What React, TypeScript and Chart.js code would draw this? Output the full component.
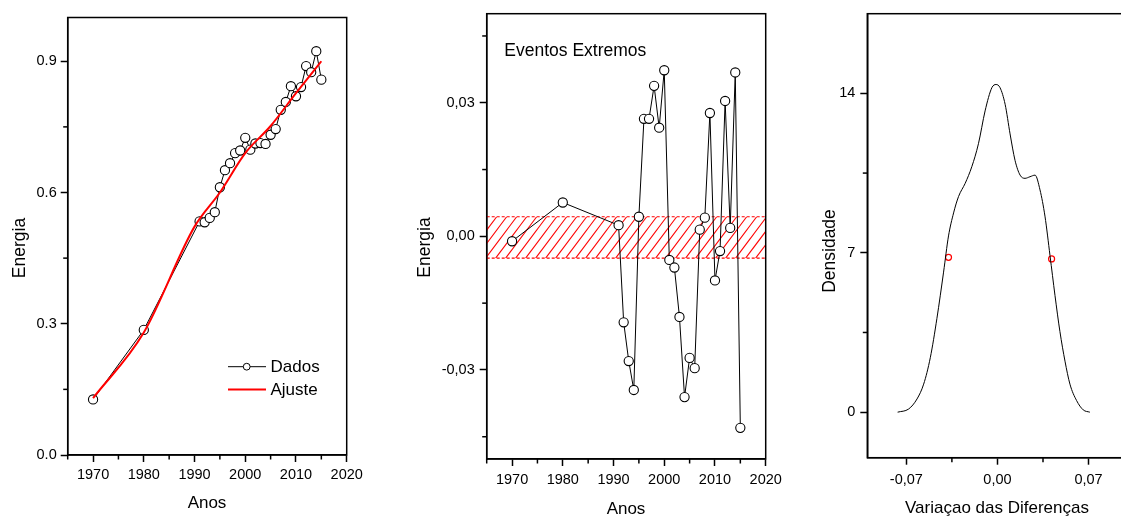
import React, { useEffect, useRef } from 'react';
import { Chart, registerables } from 'chart.js';
Chart.register(...registerables);

const FONT = '"Liberation Sans", Arial, Helvetica, sans-serif';

// ---- Panel 1: Energia vs Anos ----
const anos = [1970, 1980, 1991, 1992, 1993, 1994, 1995, 1996, 1997, 1998, 1999, 2000, 2001, 2002, 2003, 2004, 2005, 2006, 2007, 2008, 2009, 2010, 2011, 2012, 2013, 2014, 2015];
const energia = [0.127, 0.286, 0.534, 0.532, 0.542, 0.555, 0.612, 0.651, 0.667, 0.690, 0.696, 0.725, 0.698, 0.712, 0.713, 0.711, 0.732, 0.745, 0.789, 0.807, 0.843, 0.820, 0.841, 0.889, 0.875, 0.923, 0.858];
const ajusteAnos = [1970, 1980, 1990, 1995, 2000, 2005, 2010, 2015];
const ajuste = [0.13, 0.28, 0.522, 0.60, 0.69, 0.752, 0.827, 0.90];

// ---- Panel 2: Eventos Extremos ----
const diferencas = [-0.0011, 0.0076, 0.0025, -0.0193, -0.028, -0.0345, 0.0044, 0.0264, 0.0264, 0.0338, 0.0244, 0.0373, -0.0053, -0.0070, -0.0181, -0.0361, -0.0273, -0.0296, 0.0015, 0.0042, 0.0277, -0.0099, -0.0033, 0.0304, 0.0019, 0.0368, -0.0430];
const faixa = [-0.0049, 0.0044];

// ---- Panel 3: Densidade ----
const densX = [-0.0767, -0.0682, -0.0618, -0.0567, -0.0516, -0.0465, -0.0414, -0.0376, -0.0337, -0.0299, -0.0248, -0.0197, -0.0146, -0.0095, -0.0043, -0.001, 0.002, 0.0059, 0.0097, 0.0135, 0.0174, 0.0212, 0.025, 0.0289, 0.0327, 0.0365, 0.0404, 0.0442, 0.048, 0.0519, 0.0557, 0.0608, 0.0659, 0.071];
const densY = [0, 0.14, 0.58, 1.23, 2.39, 4.12, 6.15, 7.74, 8.75, 9.47, 10.05, 10.78, 11.79, 13.23, 14.25, 14.39, 14.25, 13.52, 12.22, 11.06, 10.41, 10.27, 10.34, 10.41, 9.76, 8.61, 6.87, 5.13, 3.54, 2.24, 1.23, 0.51, 0.10, 0];
const marcaX = [-0.0376, 0.0416];
const marcaY = [6.8, 6.73];

// ---- Ticks ----
const anoTicks = [1965, 1970, 1975, 1980, 1985, 1990, 1995, 2000, 2005, 2010, 2015, 2020];
const anoMajor = [1970, 1980, 1990, 2000, 2010, 2020];
const energiaTicks = [0, 0.15, 0.3, 0.45, 0.6, 0.75, 0.9];
const energiaMajor = [0, 0.3, 0.6, 0.9];
const difTicks = [-0.045, -0.03, -0.015, 0, 0.015, 0.03, 0.045];
const difMajor = [-0.03, 0, 0.03];
const varTicks = [-0.07, -0.035, 0, 0.035, 0.07];
const varMajor = [-0.07, 0, 0.07];
const densTicks = [0, 3.5, 7, 10.5, 14];
const densMajor = [0, 7, 14];

const H = 517;
const near = (a: number, b: number) => Math.abs(a - b) < 1e-9;
const isIn = (arr: number[], v: number) => arr.some((m) => near(m, v));
const comma = (v: number) => v.toFixed(2).replace('.', ',');

function axis(opts: {
  min: number; max: number; ticks: number[]; major: number[]; fmt: (v: number) => string;
  size: number; horizontal: boolean; pad: number;
}) {
  return {
    type: 'linear',
    min: opts.min,
    max: opts.max,
    afterBuildTicks: (s: any) => { s.ticks = opts.ticks.map((v) => ({ value: v })); },
    afterFit: (s: any) => { if (opts.horizontal) s.height = opts.size; else s.width = opts.size; },
    ticks: {
      autoSkip: false,
      maxRotation: 0,
      padding: opts.pad,
      color: '#000',
      font: { family: FONT, size: 14.5 },
      callback: (v: any) => (isIn(opts.major, Number(v)) ? opts.fmt(Number(v)) : ''),
    },
    grid: {
      display: true,
      drawOnChartArea: false,
      drawTicks: true,
      tickLength: 7,
      tickWidth: 1.5,
      tickColor: (c: any) => (c.tick && isIn(opts.major, c.tick.value) ? '#000' : 'rgba(0,0,0,0)'),
    },
    border: { display: true, color: '#000', width: 1.5 },
  };
}

type Deco = {
  canvasLeft: number;
  xTitle: string; xTitlePos: [number, number];
  yTitle: string; yTitlePos: [number, number];
  minorX: number[]; majorX: number[];
  minorY: number[]; majorY: number[];
  extra?: (chart: any, ctx: CanvasRenderingContext2D, ox: number) => void;
  before?: (chart: any, ctx: CanvasRenderingContext2D, ox: number) => void;
};

function decoPlugin(d: Deco) {
  return {
    id: 'deco',
    beforeDatasetsDraw(chart: any) {
      if (d.before) {
        const ctx = chart.ctx;
        ctx.save();
        d.before(chart, ctx, d.canvasLeft);
        ctx.restore();
      }
    },
    afterDraw(chart: any) {
      const ctx: CanvasRenderingContext2D = chart.ctx;
      const a = chart.chartArea;
      const ox = d.canvasLeft;
      ctx.save();
      ctx.strokeStyle = '#000';
      ctx.lineWidth = 1.5;
      ctx.strokeRect(a.left, a.top, a.right - a.left, a.bottom - a.top);
      // minor ticks
      const xs = chart.scales.x, ys = chart.scales.y;
      d.minorX.filter((v) => !isIn(d.majorX, v)).forEach((v) => {
        const px = xs.getPixelForValue(v);
        ctx.beginPath(); ctx.moveTo(px, a.bottom); ctx.lineTo(px, a.bottom + 4.5); ctx.stroke();
      });
      d.minorY.filter((v) => !isIn(d.majorY, v)).forEach((v) => {
        const py = ys.getPixelForValue(v);
        ctx.beginPath(); ctx.moveTo(a.left, py); ctx.lineTo(a.left - 4.5, py); ctx.stroke();
      });
      // titles
      ctx.fillStyle = '#000';
      ctx.font = `17px ${FONT}`;
      ctx.textAlign = 'center';
      ctx.textBaseline = 'alphabetic';
      ctx.fillText(d.xTitle, d.xTitlePos[0] - ox, d.xTitlePos[1]);
      ctx.save();
      ctx.translate(d.yTitlePos[0] - ox, d.yTitlePos[1]);
      ctx.rotate(-Math.PI / 2);
      ctx.font = `17.5px ${FONT}`;
      ctx.fillText(d.yTitle, 0, 0);
      ctx.restore();
      if (d.extra) d.extra(chart, ctx, ox);
      ctx.restore();
    },
  };
}

function baseOptions(canvasLeft: number, canvasWidth: number, plot: { left: number; right: number; top: number; bottom: number }) {
  return {
    responsive: false,
    animation: false as const,
    events: [] as any[],
    layout: { padding: { left: 0, top: plot.top, right: canvasWidth - (plot.right - canvasLeft), bottom: 0 } },
    plugins: { legend: { display: false }, tooltip: { enabled: false }, title: { display: false } },
  };
}

const pts = (xs: number[], ys: number[]) => xs.map((x, i) => ({ x, y: ys[i] }));

function makeEnergia() {
  const L = 0, W = 380;
  const plot = { left: 67.7, right: 346.7, top: 17.5, bottom: 455 };
  return {
    type: 'line',
    data: {
      datasets: [
        {
          label: 'Dados',
          data: pts(anos, energia),
          borderColor: '#000', borderWidth: 1,
          pointRadius: 4.6, pointBorderWidth: 1.1, pointBorderColor: '#000', pointBackgroundColor: '#fff',
          tension: 0, order: 1,
        },
        {
          label: 'Ajuste',
          data: pts(ajusteAnos, ajuste),
          borderColor: '#ff0000', borderWidth: 2, pointRadius: 0,
          cubicInterpolationMode: 'monotone', order: 0,
        },
      ],
    },
    options: {
      ...baseOptions(L, W, plot),
      scales: {
        x: axis({ min: 1965, max: 2020, ticks: anoTicks, major: anoMajor, fmt: (v) => String(v), size: H - plot.bottom, horizontal: true, pad: 4 }),
        y: axis({ min: 0, max: 1.0, ticks: energiaTicks, major: energiaMajor, fmt: (v) => v.toFixed(1), size: plot.left - L, horizontal: false, pad: 4 }),
      },
    },
    plugins: [decoPlugin({
      canvasLeft: L,
      xTitle: 'Anos', xTitlePos: [207, 508.3],
      yTitle: 'Energia', yTitlePos: [24.6, 248],
      minorX: anoTicks, majorX: anoMajor, minorY: energiaTicks, majorY: energiaMajor,
      extra: (chart, ctx, ox) => {
        const ds = chart.data.datasets;
        ctx.font = `17px ${FONT}`;
        ctx.textAlign = 'left';
        ctx.textBaseline = 'middle';
        ctx.fillStyle = '#000';
        // Dados
        ctx.strokeStyle = '#000'; ctx.lineWidth = 1;
        ctx.beginPath(); ctx.moveTo(228 - ox, 366.7); ctx.lineTo(266 - ox, 366.7); ctx.stroke();
        ctx.beginPath(); ctx.arc(246.7 - ox, 366.7, 3.4, 0, Math.PI * 2);
        ctx.fillStyle = '#fff'; ctx.fill(); ctx.stroke();
        ctx.fillStyle = '#000';
        ctx.fillText(ds[0].label, 270.5 - ox, 367.5);
        // Ajuste
        ctx.strokeStyle = '#ff0000'; ctx.lineWidth = 2;
        ctx.beginPath(); ctx.moveTo(228 - ox, 389.5); ctx.lineTo(266 - ox, 389.5); ctx.stroke();
        ctx.fillText(ds[1].label, 270.5 - ox, 390.3);
      },
    })],
  };
}

function makeExtremos() {
  const L = 400, W = 400;
  const plot = { left: 486.7, right: 765.7, top: 8.3, bottom: 459 };
  return {
    type: 'line',
    data: {
      datasets: [
        {
          label: 'Eventos Extremos',
          data: pts(anos, diferencas),
          borderColor: '#000', borderWidth: 1,
          pointRadius: 4.6, pointBorderWidth: 1.1, pointBorderColor: '#000', pointBackgroundColor: '#fff',
          tension: 0,
        },
      ],
    },
    options: {
      ...baseOptions(L, W, plot),
      scales: {
        x: axis({ min: 1965, max: 2020, ticks: anoTicks, major: anoMajor, fmt: (v) => String(v), size: H - plot.bottom, horizontal: true, pad: 5.7 }),
        y: axis({ min: -0.05, max: 0.05, ticks: difTicks, major: difMajor, fmt: comma, size: plot.left - L, horizontal: false, pad: 5 }),
      },
    },
    plugins: [decoPlugin({
      canvasLeft: L,
      xTitle: 'Anos', xTitlePos: [626, 514],
      yTitle: 'Energia', yTitlePos: [429.6, 247.5],
      minorX: anoTicks, majorX: anoMajor, minorY: difTicks, majorY: difMajor,
      before: (chart, ctx) => {
        const a = chart.chartArea;
        const ys = chart.scales.y;
        const yTop = ys.getPixelForValue(faixa[1]);
        const yBot = ys.getPixelForValue(faixa[0]);
        const h = yBot - yTop;
        const run = h * 0.75;
        ctx.save();
        ctx.beginPath(); ctx.rect(a.left, yTop, a.right - a.left, h); ctx.clip();
        ctx.strokeStyle = '#ff0000'; ctx.lineWidth = 1.1;
        for (let x0 = a.left - run; x0 < a.right + run; x0 += 10) {
          ctx.beginPath(); ctx.moveTo(x0, yBot); ctx.lineTo(x0 + run, yTop); ctx.stroke();
        }
        ctx.restore();
        ctx.save();
        ctx.setLineDash([3, 2]);
        ctx.strokeStyle = '#ff0000'; ctx.lineWidth = 1.2;
        ctx.beginPath();
        ctx.moveTo(a.left, yTop); ctx.lineTo(a.right, yTop);
        ctx.moveTo(a.left, yBot); ctx.lineTo(a.right, yBot);
        ctx.stroke();
        ctx.restore();
      },
      extra: (chart, ctx, ox) => {
        ctx.font = `17.5px ${FONT}`;
        ctx.textAlign = 'left';
        ctx.textBaseline = 'alphabetic';
        ctx.fillStyle = '#000';
        ctx.fillText(chart.data.datasets[0].label, 504.3 - ox, 55.7);
      },
    })],
  };
}

function makeDensidade() {
  const L = 790, W = 350;
  const plot = { left: 867.3, right: 1127.6, top: 8.3, bottom: 457.7 };
  return {
    type: 'line',
    data: {
      datasets: [
        {
          label: 'Densidade',
          data: pts(densX, densY),
          borderColor: '#000', borderWidth: 1, pointRadius: 0,
          cubicInterpolationMode: 'monotone',
        },
        {
          label: 'Limites',
          data: pts(marcaX, marcaY),
          showLine: false,
          pointRadius: 3, pointBorderWidth: 1.2, pointBorderColor: '#ff0000', pointBackgroundColor: 'rgba(0,0,0,0)',
        },
      ],
    },
    options: {
      ...baseOptions(L, W, plot),
      scales: {
        x: axis({ min: -0.1, max: 0.1, ticks: varTicks, major: varMajor, fmt: comma, size: H - plot.bottom, horizontal: true, pad: 7 }),
        y: axis({ min: -2, max: 17.5, ticks: densTicks, major: densMajor, fmt: (v) => String(v), size: plot.left - L, horizontal: false, pad: 5 }),
      },
    },
    plugins: [decoPlugin({
      canvasLeft: L,
      xTitle: 'Variaçao das Diferenças', xTitlePos: [997, 513.3],
      yTitle: 'Densidade', yTitlePos: [835.2, 251],
      minorX: varTicks, majorX: varMajor, minorY: densTicks, majorY: densMajor,
    })],
  };
}

function ChartBox({ left, width, make }: { left: number; width: number; make: () => any }) {
  const ref = useRef<HTMLCanvasElement>(null);
  useEffect(() => {
    if (!ref.current) return;
    const chart = new Chart(ref.current, make());
    return () => chart.destroy();
  }, []);
  return (
    <canvas
      ref={ref}
      width={width}
      height={H}
      style={{ position: 'absolute', left, top: 0, width, height: H, display: 'block' }}
    />
  );
}

export default function App() {
  return (
    <div style={{ position: 'absolute', left: 0, top: 0, width: 1121, height: H, overflow: 'hidden', background: '#fff' }}>
      <ChartBox left={0} width={380} make={makeEnergia} />
      <ChartBox left={400} width={400} make={makeExtremos} />
      <ChartBox left={790} width={350} make={makeDensidade} />
    </div>
  );
}
